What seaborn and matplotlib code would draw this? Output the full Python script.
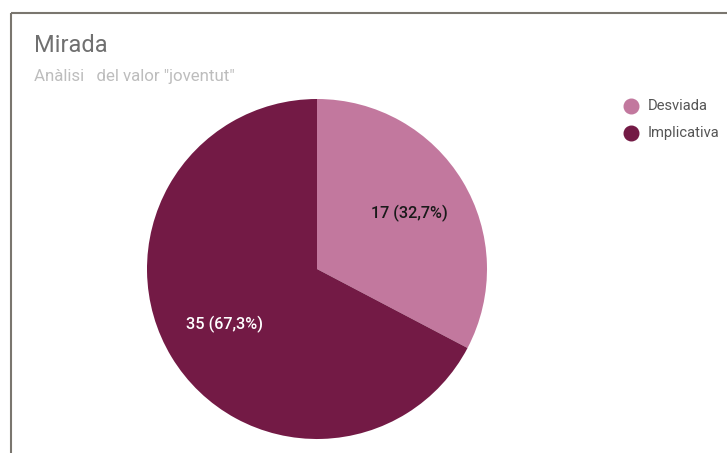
import matplotlib
matplotlib.use("Agg")
import matplotlib.pyplot as plt
from matplotlib.lines import Line2D
import seaborn as sns

# Chart data
categories = ["Desviada", "Implicativa"]
counts = [17, 35]
colors = ["#C2789E", "#731A45"]
title = "Mirada"
subtitle = "Anàlisi   del valor \"joventut\""

sns.set_theme(style="white")
plt.rcParams["font.family"] = ["Roboto", "DejaVu Sans"]

W, H = 727, 453
fig = plt.figure(figsize=(W / 100, H / 100), dpi=100)
fig.patch.set_facecolor("white")

# Card frame (top and left edges)
fig.add_artist(Line2D([11 / W, 1.0], [1 - 13 / H, 1 - 13 / H], transform=fig.transFigure,
                      color="#7a766f", lw=1.5, solid_capstyle="butt"))
fig.add_artist(Line2D([11 / W, 11 / W], [0.0, 1 - 13 / H], transform=fig.transFigure,
                      color="#7a766f", lw=1.5, solid_capstyle="butt"))

# Pie axes: centre (317, 269) px, radius 170 px
cx, cy, r = 317, 269, 170
ax = fig.add_axes([(cx - r) / W, (H - cy - r) / H, 2 * r / W, 2 * r / H])

total = sum(counts)


def fmt(pct):
    n = int(round(pct * total / 100.0))
    return f"{n} ({pct:.1f}%)".replace(".", ",")


wedges, texts, autotexts = ax.pie(
    counts, colors=colors, startangle=90, counterclock=False,
    autopct=fmt, pctdistance=0.635, radius=1.0,
    wedgeprops=dict(linewidth=0),
)
ax.set_xlim(-1, 1)
ax.set_ylim(-1, 1)
ax.set_aspect("equal")
ax.axis("off")
for t, c in zip(autotexts, ["#1a1a1a", "white"]):
    t.set_color(c)
    t.set_fontsize(11.7)
    t.set_fontweight("medium")

# Titles
fig.text(34 / W, 1 - 45 / H, title, fontsize=17, color="#707070", va="center", ha="left")
fig.text(34 / W, 1 - 76 / H, subtitle, fontsize=12.2, color="#bdbdbd", va="center", ha="left")

# Legend
for i, (lab, col) in enumerate(zip(categories, colors)):
    y = 1 - (106 + 27 * i) / H
    fig.add_artist(Line2D([631 / W], [y], marker="o", markersize=10.5, color=col,
                          linestyle="none", transform=fig.transFigure))
    fig.text(648 / W, y, lab, fontsize=10.6, color="#555555", va="center", ha="left")

fig.savefig("out.png", dpi=100, facecolor="white")
